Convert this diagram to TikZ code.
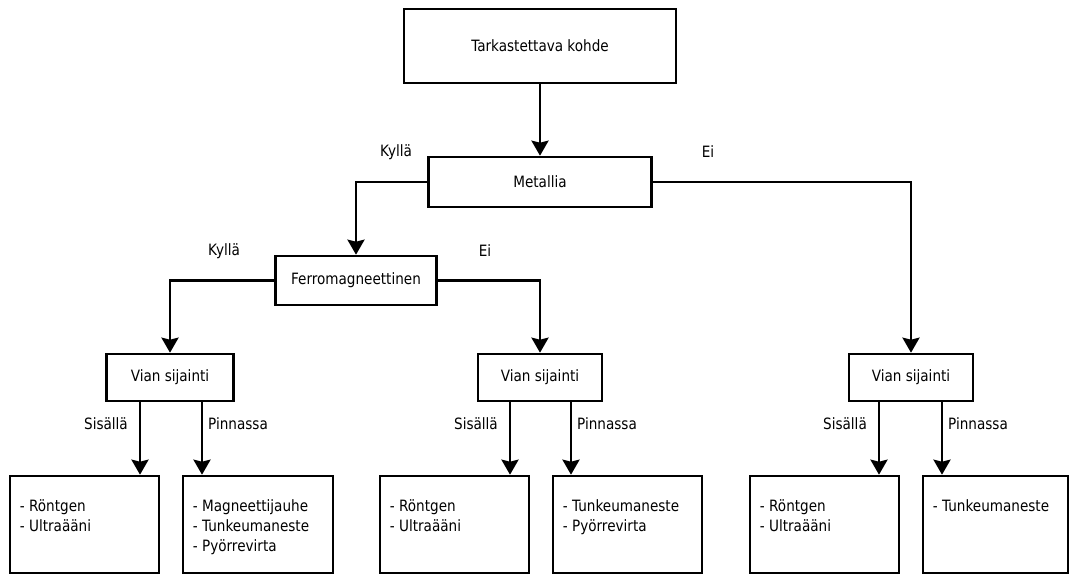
\documentclass[tikz,border=0pt]{standalone}
\usepackage{fontspec}
\setmainfont{DejaVu Sans}[FakeStretch=0.87]
\usetikzlibrary{arrows.meta}
\tikzset{
  box/.style={draw=black, line width=2.6pt, inner sep=0pt, fill=white},
  arr/.style={line width=2.6pt, -{Stealth[length=15pt,width=17pt,inset=2pt]}},
  lbl/.style={inner sep=0pt},
  list/.style={inner sep=0pt, align=left, anchor=north west},
}
\begin{document}
\begin{tikzpicture}[x=1pt,y=-1pt,font=\fontsize{15.6}{20}\selectfont]
\useasboundingbox (0,0) rectangle (1069,575);
% decision nodes
\node[box, minimum width=272pt, minimum height=74pt] (top) at (540,46) {Tarkastettava kohde};
\node[box, minimum width=223pt, minimum height=50pt] (met) at (540,182) {Metallia};
\node[box, minimum width=161pt, minimum height=49pt] (fer) at (356,280.5) {Ferromagneettinen};
\node[box, minimum width=127pt, minimum height=47pt] (v1) at (170,377.5) {Vian sijainti};
\node[box, minimum width=124pt, minimum height=47pt] (v2) at (540,377.5) {Vian sijainti};
\node[box, minimum width=124pt, minimum height=47pt] (v3) at (911,377.5) {Vian sijainti};
% result boxes
\node[box, minimum width=149pt, minimum height=97pt] (b1) at (84.5,524.5) {};
\node[box, minimum width=150pt, minimum height=97pt] (b2) at (258,524.5) {};
\node[box, minimum width=149pt, minimum height=97pt] (b3) at (454.5,524.5) {};
\node[box, minimum width=149pt, minimum height=97pt] (b4) at (627.5,524.5) {};
\node[box, minimum width=149pt, minimum height=97pt] (b5) at (824.5,524.5) {};
\node[box, minimum width=145pt, minimum height=97pt] (b6) at (995.5,524.5) {};
\node[list] (t1) at ([xshift=11pt,yshift=-25pt]b1.north west) {- Röntgen\\- Ultraääni};
\node[list] (t2) at ([xshift=11pt,yshift=-25pt]b2.north west) {- Magneettijauhe\\- Tunkeumaneste\\- Pyörrevirta};
\node[list] (t3) at ([xshift=11pt,yshift=-25pt]b3.north west) {- Röntgen\\- Ultraääni};
\node[list] (t4) at ([xshift=11pt,yshift=-25pt]b4.north west) {- Tunkeumaneste\\- Pyörrevirta};
\node[list] (t5) at ([xshift=11pt,yshift=-25pt]b5.north west) {- Röntgen\\- Ultraääni};
\node[list] (t6) at ([xshift=11pt,yshift=-25pt]b6.north west) {- Tunkeumaneste};
% connectors
\draw[arr] (top.south) -- (met.north);
\draw[arr] (met.west) -| (fer.north);
\draw[arr] (met.east) -| (v3.north);
\draw[arr] (fer.west) -| (v1.north);
\draw[arr] (fer.east) -| (v2.north);
\draw[arr] ([xshift=-30pt]v1.south) -- ([xshift=-30pt]v1.south |- b1.north);
\draw[arr] ([xshift=32pt]v1.south) -- ([xshift=32pt]v1.south |- b2.north);
\draw[arr] ([xshift=-30pt]v2.south) -- ([xshift=-30pt]v2.south |- b3.north);
\draw[arr] ([xshift=31pt]v2.south) -- ([xshift=31pt]v2.south |- b4.north);
\draw[arr] ([xshift=-32pt]v3.south) -- ([xshift=-32pt]v3.south |- b5.north);
\draw[arr] ([xshift=31pt]v3.south) -- ([xshift=31pt]v3.south |- b6.north);
% labels
\node[lbl] (k1) at (396,152) {Kyllä};
\node[lbl] (e1) at (708,152) {Ei};
\node[lbl] (k2) at (224,251) {Kyllä};
\node[lbl] (e2) at (485,251) {Ei};
\node[lbl, anchor=east] (s1) at ([xshift=-42pt,yshift=-21pt]v1.south) {Sisällä};
\node[lbl, anchor=west] (p1) at ([xshift=38pt,yshift=-21pt]v1.south) {Pinnassa};
\node[lbl, anchor=east] (s2) at ([xshift=-42pt,yshift=-21pt]v2.south) {Sisällä};
\node[lbl, anchor=west] (p2) at ([xshift=37pt,yshift=-21pt]v2.south) {Pinnassa};
\node[lbl, anchor=east] (s3) at ([xshift=-44pt,yshift=-21pt]v3.south) {Sisällä};
\node[lbl, anchor=west] (p3) at ([xshift=37pt,yshift=-21pt]v3.south) {Pinnassa};
\end{tikzpicture}
\end{document}
